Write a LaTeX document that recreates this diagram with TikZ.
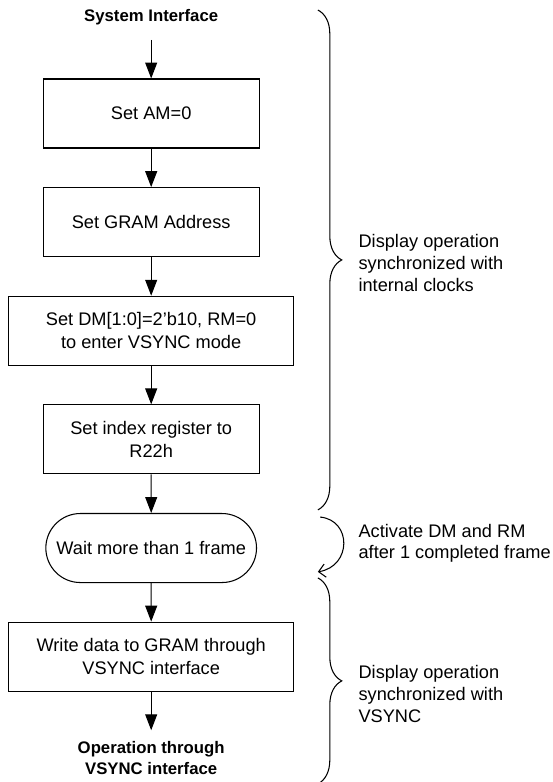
\documentclass[tikz,border=0pt]{standalone}
\usepackage{fontspec}
\setmainfont{Liberation Sans}
\usetikzlibrary{positioning, arrows.meta, shapes.misc, decorations.pathreplacing}

\begin{document}
\begin{tikzpicture}[
      node distance = 1.02cm,
      every node/.style = {font=\fontsize{13.7}{17}\selectfont},
      stepbox/.style = {draw, line width=0.8pt, minimum height=1.826cm,
                        minimum width=5.715cm, align=center, inner sep=2pt},
      widebox/.style = {stepbox, minimum width=7.54cm},
      waitbox/.style = {stepbox, rounded rectangle},
      endtxt/.style = {font=\fontsize{12.6}{15.8}\selectfont\bfseries,
                       align=center, inner xsep=0pt, inner ysep=11pt},
      note/.style = {anchor=west, align=left, inner sep=0pt,
                     font=\fontsize{13.7}{16.3}\selectfont},
      arr/.style = {-{Triangle[length=12pt, width=9pt]}, line width=0.8pt},
      brc/.style = {decorate, decoration={brace, amplitude=18pt}, line width=0.8pt}
    ]
    \useasboundingbox (0,0) rectangle (14.605,-20.69);
    % flow
    \node[stepbox] (am) at (4,-3.003) {Set AM=0};
    \node[endtxt, above=of am]    (sysif) {System Interface};
    \node[stepbox, below=of am]   (gram)  {Set GRAM Address};
    \node[widebox, below=of gram] (dmode) {Set DM[1:0]=2'b10, RM=0\\to enter VSYNC mode};
    \node[stepbox, below=of dmode] (idx)  {Set index register to\\R22h};
    \node[waitbox, below=of idx]  (wait)  {Wait more than 1 frame};
    \node[widebox, below=of wait] (wrt)   {Write data to GRAM through\\VSYNC interface};
    \node[endtxt, inner ysep=8pt, below=of wrt] (done) {Operation through\\VSYNC interface};
    \draw[arr] (sysif) -- (am);
    \draw[arr] (am)    -- (gram);
    \draw[arr] (gram)  -- (dmode);
    \draw[arr] (dmode) -- (idx);
    \draw[arr] (idx)   -- (wait);
    \draw[arr] (wait)  -- (wrt);
    \draw[arr] (wrt)   -- (done);
    % braces and notes
    \coordinate (clkT) at (8.41,-0.265);
    \coordinate (clkB) at (8.41,-13.49);
    \coordinate (actT) at (8.47,-13.68);
    \coordinate (actB) at (8.41,-15.13);
    \coordinate (vsT)  at (8.41,-15.29);
    \coordinate (vsB)  at (8.41,-20.74);
    \draw[brc] (clkT) -- (clkB);
    \draw[line width=0.8pt, -{Straight Barb[length=5pt, width=10pt]}]
      (actT) .. controls (9.31,-13.76) and (9.31,-14.98) .. (actB);
    \draw[brc] (vsT) -- (vsB);
    \node[note] (clk) at (9.48,-6.96)  {Display operation\\synchronized with\\internal clocks};
    \node[note] (act) at (9.48,-14.37) {Activate DM and RM\\after 1 completed frame};
    \node[note] (vs)  at (9.48,-18.36) {Display operation\\synchronized with\\VSYNC};
\end{tikzpicture}
\end{document}
